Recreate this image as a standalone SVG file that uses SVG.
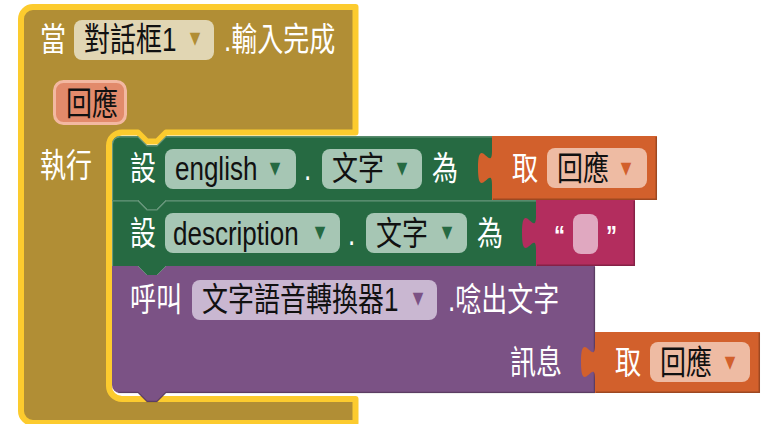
<svg xmlns="http://www.w3.org/2000/svg" width="774" height="424" viewBox="0 0 774 424">
<style>
text{font-family:"Liberation Sans","Noto Sans CJK TC",sans-serif;font-size:26px}
.w{fill:#fff}
.k{fill:#111}
.dd{font-family:"DejaVu Sans",sans-serif;font-size:21px;text-anchor:middle}
.q{font-weight:bold;font-size:22px;fill:#fff}
.hl{fill:none;stroke:#fff;stroke-opacity:.3;stroke-width:1.2}
.sh{fill:none;stroke:#000;stroke-opacity:.25;stroke-width:1.5}
.fg{fill:#a6c6b4}
.fo{fill:#eebba3}
</style>
<rect width="774" height="424" fill="#fff"/>

<g id="event-block">
<path d="M21,19 A12,12 0 0 1 33,7 H355.5 V132.5 H166 L157,141.5 H147 L138,132.5 H122 A13,13 0 0 0 109,145.5 V386 A13,13 0 0 0 122,399 H355.5 V423 H33 A12,12 0 0 1 21,411 Z" fill="#b18e35" stroke="#fccb2e" stroke-width="6" stroke-linejoin="round"/>
<text class="w" transform="translate(40,51) scale(1,1.25)">當</text>
<rect x="74" y="20" width="140" height="40" rx="8" fill="#e1d6b3"/>
<text class="k" transform="translate(84,51) scale(1,1.25)">對話框1</text>
<text class="dd" fill="#b18e35" transform="translate(195,46) scale(1,1.25)">▾</text>
<text class="w" transform="translate(224,51) scale(1,1.25)">.輸入完成</text>
<rect x="54.5" y="81.5" width="71" height="42" rx="9" fill="#e28a6b" stroke="#f3b8a1" stroke-width="3"/>
<text class="k" transform="translate(66,115) scale(1,1.25)">回應</text>
<text class="w" transform="translate(40,177) scale(1,1.25)">執行</text>
</g>

<g id="call-speak">
<path d="M112,266 H138 L147,275 H157 L166,266 H595 V393 H166 L157,402 H147 L138,393 H120 A8,8 0 0 1 112,385 Z" fill="#7b5285"/>
<path class="sh" d="M118,392.5 H138 L147,401.5 H157 L166,392.5 H594.5 V267"/>
<text class="w" transform="translate(130,311) scale(1,1.25)">呼叫</text>
<rect x="192" y="280" width="245" height="40" rx="8" fill="#c9b7d1"/>
<text class="k" transform="translate(202,311) scale(1,1.25)">文字語音轉換器1</text>
<text class="dd" fill="#7b5285" transform="translate(418,306) scale(1,1.25)">▾</text>
<text class="w" transform="translate(448,311) scale(1,1.25)">.唸出文字</text>
<text class="w" transform="translate(510,374) scale(1,1.25)">訊息</text>
</g>

<g id="set-description">
<path d="M112,200 H138 L147,209 H157 L166,200 H536 V266 H166 L157,275 H147 L138,266 H112 Z" fill="#266a42"/>
<path class="hl" d="M112.5,266 V200.8 H138 L147,209.8 H157 L166,200.8 H536"/>
<text class="w" transform="translate(130,245) scale(1,1.25)">設</text>
<rect x="165" y="213" width="175" height="40" rx="8" class="fg"/>
<text class="k" transform="translate(173,245) scale(1,1.25)">description</text>
<text class="dd" fill="#266a42" transform="translate(320,240) scale(1,1.25)">▾</text>
<text class="w" transform="translate(348,245) scale(1,1.25)">.</text>
<rect x="366" y="213" width="101" height="40" rx="8" class="fg"/>
<text class="k" transform="translate(376,245) scale(1,1.25)">文字</text>
<text class="dd" fill="#266a42" transform="translate(447,240) scale(1,1.25)">▾</text>
<text class="w" transform="translate(477,245) scale(1,1.25)">為</text>
</g>

<g id="set-english">
<path d="M112,144 A8,8 0 0 1 120,136 H138 L147,145 H157 L166,136 H492 V200 H166 L157,209 H147 L138,200 H112 Z" fill="#266a42"/>
<path class="hl" d="M112.5,200 V144 A7.5,7.5 0 0 1 120,136.8 H138 L147,145.8 H157 L166,136.8 H492"/>
<text class="w" transform="translate(130,180) scale(1,1.25)">設</text>
<rect x="165" y="149" width="131" height="40" rx="8" class="fg"/>
<text class="k" transform="translate(175,180) scale(1,1.25)">english</text>
<text class="dd" fill="#266a42" transform="translate(275,176) scale(1,1.25)">▾</text>
<text class="w" transform="translate(304,180) scale(1,1.25)">.</text>
<rect x="322" y="149" width="100" height="40" rx="8" class="fg"/>
<text class="k" transform="translate(332,180) scale(1,1.25)">文字</text>
<text class="dd" fill="#266a42" transform="translate(402,176) scale(1,1.25)">▾</text>
<text class="w" transform="translate(432,180) scale(1,1.25)">為</text>
</g>

<g id="get-response-1">
<path d="M492,136 V151 c0,22.7 -14,-18.2 -14,17 s14,-5.7 14,17 V200 H657 V136 Z" fill="#d2602c"/>
<path class="sh" d="M493,199.3 H656.3 V137"/>
<text class="w" transform="translate(512,180) scale(1,1.25)">取</text>
<rect x="547" y="148" width="100" height="40" rx="8" class="fo"/>
<text class="k" transform="translate(557,180) scale(1,1.25)">回應</text>
<text class="dd" fill="#d2602c" transform="translate(626,176) scale(1,1.25)">▾</text>
</g>

<g id="text-empty">
<path d="M536,200 V216 c0,22.7 -14,-18.2 -14,17 s14,-5.7 14,17 V266 H635 V200 Z" fill="#b32d5e"/>
<path class="sh" d="M537,265.3 H634.3 V201"/>
<text class="q" transform="translate(554,245) scale(1,1.25)">“</text>
<rect x="573" y="214" width="25" height="40" rx="8" fill="#e0a8c0"/>
<text class="q" transform="translate(606,245) scale(1,1.25)">”</text>
</g>

<g id="get-response-2">
<path d="M595,332 V345 c0,22.7 -14,-18.2 -14,17 s14,-5.7 14,17 V393 H760 V332 Z" fill="#d2602c"/>
<path class="sh" d="M596,392.3 H759.3 V333"/>
<text class="w" transform="translate(615,374) scale(1,1.25)">取</text>
<rect x="650" y="342" width="100" height="40" rx="8" class="fo"/>
<text class="k" transform="translate(660,374) scale(1,1.25)">回應</text>
<text class="dd" fill="#d2602c" transform="translate(730,370) scale(1,1.25)">▾</text>
</g>
</svg>
